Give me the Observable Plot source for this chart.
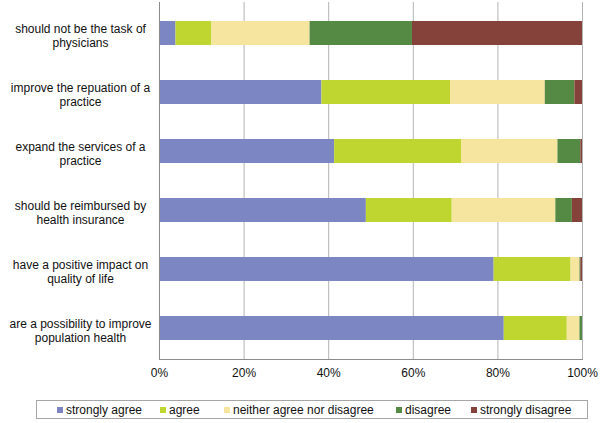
<!DOCTYPE html>
<html>
<head>
<meta charset="utf-8">
<script src="https://cdn.jsdelivr.net/npm/d3@7"></script>
<script src="https://cdn.jsdelivr.net/npm/@observablehq/plot@0.6"></script>
<style>
  html, body { margin: 0; padding: 0; background: #fff; }
  body { width: 600px; height: 423px; overflow: hidden; font-family: "Liberation Sans", Arial, sans-serif; }
  #legend {
    position: absolute; left: 36px; top: 400px; width: 550px; height: 17px;
    border: 1px solid #a6a6a6; font-size: 12px; color: #111;
  }
  #legend .item { position: absolute; top: 0; height: 17px; display: flex; align-items: center; white-space: nowrap; }
  #legend .sw { width: 6px; height: 6px; margin-right: 3px; }
</style>
</head>
<body>
<div id="chart"></div>
<div id="legend"></div>
<script>
const categories = [
  "should not be the task of\nphysicians",
  "improve the repuation of a\npractice",
  "expand the services of a\npractice",
  "should be reimbursed by\nhealth insurance",
  "have a positive impact on\nquality of life",
  "are a possibility to improve\npopulation health"
];
const responses = ["strongly agree", "agree", "neither agree nor disagree", "disagree", "strongly disagree"];
const stronglyAgree = [3.9, 38.4, 41.4, 48.9, 79.1, 81.5];
const agree         = [8.5, 30.4, 30.0, 20.3, 18.2, 14.9];
const neither       = [23.2, 22.4, 22.8, 24.5, 2.1, 3.0];
const disagree      = [24.2, 7.0, 5.4, 3.9, 0.2, 0.6];
const stronglyDis   = [40.2, 1.8, 0.4, 2.4, 0.4, 0.0];
const xTicks = [0, 20, 40, 60, 80, 100];
const colors = ["#7b86c2", "#bed62f", "#f6e59e", "#548a43", "#85423a"];

const seriesValues = [stronglyAgree, agree, neither, disagree, stronglyDis];
const data = [];
categories.forEach((c, i) => {
  responses.forEach((r, j) => data.push({category: c, response: r, value: seriesValues[j][i]}));
});

const chart = Plot.plot({
  width: 600,
  height: 392,
  marginTop: 2,
  marginBottom: 33,
  marginLeft: 159,
  marginRight: 18,
  style: {fontFamily: "Liberation Sans, Arial, sans-serif", fontSize: "12px", color: "#111", background: "#fff"},
  x: {domain: [0, 100], ticks: xTicks},
  y: {domain: categories, paddingInner: 0.6, paddingOuter: 0.3},
  color: {domain: responses, range: colors},
  marks: [
    Plot.gridX(xTicks, {stroke: "#b3b3b3", strokeOpacity: 1}),
    Plot.barX(data, Plot.stackX({x: "value", y: "category", fill: "response", order: responses})),
    Plot.ruleX([0], {stroke: "#8c8c8c"}),
    Plot.frame({anchor: "bottom", stroke: "#8c8c8c"}),
    Plot.axisX(xTicks, {label: null, tickSize: 0, tickPadding: 9, tickFormat: d => d + "%", fontSize: 12, fill: "#111"}),
    Plot.axisY({label: null, tickSize: 0, tickPadding: 0, dx: -79, dy: 2, textAnchor: "middle", lineHeight: 1.2, fontSize: 12, fill: "#111"})
  ]
});
document.getElementById("chart").appendChild(chart);

const legend = document.getElementById("legend");
const lefts = [20, 123, 187, 359, 434];
responses.forEach((r, j) => {
  const it = document.createElement("div");
  it.className = "item";
  it.style.left = lefts[j] + "px";
  const sw = document.createElement("div");
  sw.className = "sw";
  sw.style.background = colors[j];
  const tx = document.createElement("span");
  tx.textContent = r;
  it.appendChild(sw);
  it.appendChild(tx);
  legend.appendChild(it);
});
</script>
</body>
</html>
